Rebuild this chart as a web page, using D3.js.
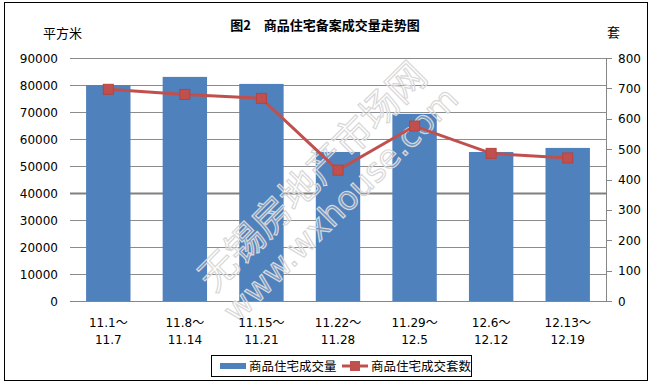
<!DOCTYPE html>
<html><head><meta charset="utf-8">
<script src="https://cdn.jsdelivr.net/npm/d3@7"></script>
<style>body{margin:0;background:#fff}svg{display:block}</style>
</head><body>
<script>
const categories = [["11.1","11.7"],["11.8","11.14"],["11.15","11.21"],["11.22","11.28"],["11.29","12.5"],["12.6","12.12"],["12.13","12.19"]];
const areaValues = [80000, 83000, 80400, 55200, 69300, 55200, 56700];
const unitValues = [697, 680, 667, 431, 576, 486, 471];
const leftTicks = [0,10000,20000,30000,40000,50000,60000,70000,80000,90000];
const rightTicks = [0,100,200,300,400,500,600,700,800];
const seriesNames = ["商品住宅成交量","商品住宅成交套数"];

const W=652,H=384;
const svg=d3.select("body").append("svg").attr("width",W).attr("height",H);
const font="'Noto Sans CJK SC','DejaVu Sans',sans-serif";
const numFont="'DejaVu Sans',sans-serif";
svg.append("rect").attr("x",4.5).attr("y",2.5).attr("width",643).attr("height",378).attr("fill","#fff").attr("stroke","#000").attr("stroke-width",1);

const L=70,R=606,T=58,B=301;
const x=d3.scaleBand().domain(d3.range(categories.length)).range([L,R]).paddingInner(0.42).paddingOuter(0.21);
const yL=d3.scaleLinear().domain([0,90000]).range([B,T]);
const yR=d3.scaleLinear().domain([0,800]).range([B,T]);

// gridlines
svg.append("g").selectAll("line").data(leftTicks.filter(d=>d>0)).join("line")
  .attr("x1",L).attr("x2",R).attr("y1",d=>Math.round(yL(d))+0.5).attr("y2",d=>Math.round(yL(d))+0.5)
  .attr("stroke",d=>d===40000?"#808080":"#8c8c8c").attr("stroke-width",d=>d===40000?2:1);

// bars
svg.append("g").selectAll("rect").data(areaValues).join("rect")
  .attr("x",(d,i)=>x(i)).attr("width",x.bandwidth()).attr("y",d=>yL(d)).attr("height",d=>B-yL(d))
  .attr("fill","#4f81bd");

// axes lines
svg.append("line").attr("x1",L).attr("x2",R).attr("y1",B+0.5).attr("y2",B+0.5).attr("stroke","#868686");
svg.append("line").attr("x1",R+0.5).attr("x2",R+0.5).attr("y1",T).attr("y2",B+1).attr("stroke","#868686");
svg.append("g").selectAll("line").data(rightTicks).join("line")
  .attr("x1",R).attr("x2",R+6).attr("y1",d=>Math.round(yR(d))+0.5).attr("y2",d=>Math.round(yR(d))+0.5).attr("stroke","#868686");

// watermark
const wm=svg.append("g").attr("transform","translate(326,190) rotate(-45)");
wm.append("text").attr("x",0).attr("y",-6).attr("text-anchor","middle").attr("font-family",font).attr("font-size",38)
  .attr("fill","#fff").attr("fill-opacity",0.2).attr("stroke","#d8d8d8").attr("stroke-width",1.2).text("无锡房地产市场网");
wm.append("text").attr("x",0).attr("y",32).attr("text-anchor","middle").attr("font-family",numFont).attr("font-size",33)
  .attr("fill","#fff").attr("fill-opacity",0.2).attr("stroke","#d8d8d8").attr("stroke-width",1.2).text("www.wxhouse.com");

// left tick labels
svg.append("g").selectAll("text").data(leftTicks).join("text")
  .attr("x",58).attr("y",d=>yL(d)+4.5).attr("text-anchor","end").attr("font-family",numFont).attr("font-size",12)
  .attr("fill","#000").text(d=>d);
svg.append("g").selectAll("text").data(rightTicks).join("text")
  .attr("x",618).attr("y",d=>yR(d)+4.5).attr("text-anchor","start").attr("font-family",numFont).attr("font-size",12)
  .attr("fill","#000").text(d=>d);

// x labels
const cx=i=>x(i)+x.bandwidth()/2;
const xl1=svg.append("g").selectAll("text").data(categories).join("text")
  .attr("x",(d,i)=>cx(i)).attr("y",327).attr("text-anchor","middle").attr("font-family",numFont).attr("font-size",12).attr("fill","#000");
xl1.append("tspan").text(d=>d[0]);
xl1.append("tspan").attr("font-family",font).text("～");
svg.append("g").selectAll("text").data(categories).join("text")
  .attr("x",(d,i)=>cx(i)).attr("y",344).attr("text-anchor","middle").attr("font-family",numFont).attr("font-size",12).attr("fill","#000")
  .text(d=>d[1]);

// line
const lineGen=d3.line().x((d,i)=>cx(i)).y(d=>yR(d));
svg.append("path").datum(unitValues).attr("d",lineGen).attr("fill","none").attr("stroke","#c0504d").attr("stroke-width",3);
svg.append("g").selectAll("rect").data(unitValues).join("rect")
  .attr("x",(d,i)=>cx(i)-5).attr("y",d=>yR(d)-5).attr("width",10).attr("height",10).attr("fill","#c0504d").attr("stroke","#b8433f");

// titles
svg.append("text").attr("x",325).attr("y",30).attr("text-anchor","middle").attr("font-family",font).attr("font-weight","bold").attr("font-size",13).text("图2　商品住宅备案成交量走势图");
svg.append("text").attr("x",43).attr("y",38).attr("font-family",font).attr("font-size",13).text("平方米");
svg.append("text").attr("x",607).attr("y",37).attr("font-family",font).attr("font-size",13).text("套");

// legend
svg.append("rect").attr("x",211.5).attr("y",355.5).attr("width",260).attr("height",21).attr("fill","#fff").attr("stroke","#000");
svg.append("rect").attr("x",220).attr("y",363).attr("width",26).attr("height",6).attr("fill","#4f81bd");
svg.append("text").attr("x",249).attr("y",371).attr("font-family",font).attr("font-size",12.5).text(seriesNames[0]);
svg.append("line").attr("x1",342).attr("x2",368).attr("y1",366).attr("y2",366).attr("stroke","#c0504d").attr("stroke-width",3);
svg.append("rect").attr("x",350).attr("y",361).attr("width",10).attr("height",10).attr("fill","#c0504d");
svg.append("text").attr("x",371).attr("y",371).attr("font-family",font).attr("font-size",12.5).text(seriesNames[1]);
</script>
</body></html>
